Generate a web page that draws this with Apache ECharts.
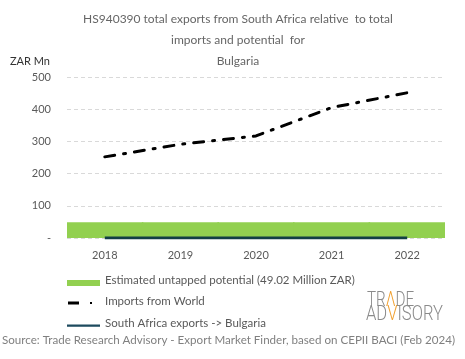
<!DOCTYPE html>
<html><head><meta charset="utf-8">
<script src="https://cdn.jsdelivr.net/npm/echarts@6/dist/echarts.min.js"></script>
<style>html,body{margin:0;padding:0;background:#fff}#c{width:465px;height:359px}</style>
</head><body><div id="c"></div>
<script>
const years = ['2018','2019','2020','2021','2022'];
const potential = [49.02, 49.02, 49.02, 49.02, 49.02];
const importsWorld = [252, 291, 317, 405, 451];
const saExports = [0, 0, 0, 0, 0];
const yTicks = [0, 100, 200, 300, 400, 500];

const FONT = 'Lato';
// tiny corner markers keep the icon's bounding box at 33x14
const BOX = ' M0,0 L0.01,0 L0,0.01 Z M33,14 L32.99,14 L33,13.99 Z';
const chart = echarts.init(document.getElementById('c'));
chart.setOption({
  animation: false,
  title: {
    text: 'HS940390 total exports from South Africa relative  to total\nimports and potential  for\nBulgaria',
    left: 233, top: 4, textAlign: 'center',
    textStyle: {fontFamily: FONT, fontSize: 12, fontWeight: 'normal', color: '#666', lineHeight: 21}
  },
  grid: {left: 67, right: 20, top: 77, bottom: 121, containLabel: false},
  xAxis: {
    type: 'category', data: years, boundaryGap: true,
    axisLine: {show: false}, axisTick: {show: false},
    axisLabel: {fontFamily: FONT, fontSize: 11, color: '#595959', margin: 12}
  },
  yAxis: {
    type: 'value', min: yTicks[0], max: yTicks[yTicks.length-1], interval: 100,
    name: 'ZAR Mn', nameLocation: 'end', nameGap: 10,
    nameTextStyle: {fontFamily: FONT, fontSize: 11, color: '#333', align: 'right', padding: [0, 17, 0, 0]},
    axisLine: {show: false}, axisTick: {show: false},
    axisLabel: {fontFamily: FONT, fontSize: 11, color: '#595959', margin: 16,
      formatter: v => v === 0 ? '-' : String(v)},
    splitLine: {lineStyle: {color: '#d9d9d9', type: [4, 3], width: 1}}
  },
  legend: {
    orient: 'vertical', left: 62, top: 268, itemGap: 7.5, itemWidth: 33, itemHeight: 14,
    textStyle: {fontFamily: FONT, fontSize: 11.5, color: '#595959'},
    data: [
      {name: 'Estimated untapped potential (49.02 Million ZAR)', icon: 'path://M0,7 L33,7 L33,13 L0,13 Z' + BOX},
      {name: 'Imports from World', icon: 'path://M1,7 L12,7 L12,10 L1,10 Z M23,7.5 L25,7.5 L25,9.5 L23,9.5 Z' + BOX},
      {name: 'South Africa exports -> Bulgaria', icon: 'path://M0,8.5 L33,8.5 L33,10.7 L0,10.7 Z' + BOX}
    ]
  },
  series: [
    {name: 'Estimated untapped potential (49.02 Million ZAR)', type: 'bar', data: potential,
      barCategoryGap: '0%', barWidth: '102%', itemStyle: {color: '#92d050', borderWidth: 0}},
    {name: 'Imports from World', type: 'line', data: importsWorld, symbol: 'none',
      lineStyle: {color: '#000', width: 3, type: [10, 9, 2, 9], cap: 'round'}, itemStyle: {color: '#000'}},
    {name: 'South Africa exports -> Bulgaria', type: 'line', data: saExports, symbol: 'none',
      lineStyle: {color: '#123f45', width: 3}, itemStyle: {color: '#1d4a5e'}}
  ],
  graphic: [
    {type: 'text', left: 2, top: 334, style: {text: 'Source: Trade Research Advisory - Export Market Finder, based on CEPII BACI (Feb 2024)',
      font: '11.6px ' + FONT, fill: '#808080'}},
    {type: 'text', x: 367, y: 291, scaleX: 0.78, style: {
      text: '{g|TR}{o|Λ}{g|DE}', verticalAlign: 'top',
      rich: {g: {fontFamily: 'Roboto', fontWeight: 300, fontSize: 19.5, fill: '#8a8a8a'},
             o: {fontFamily: 'Roboto', fontWeight: 300, fontSize: 19.5, fill: '#f0a030'}}}},
    {type: 'text', x: 366, y: 305, scaleX: 0.85, style: {
      text: '{g|AD}{o|V}{g|ISORY}', verticalAlign: 'top',
      rich: {g: {fontFamily: 'Roboto', fontWeight: 300, fontSize: 19.5, fill: '#8a8a8a'},
             o: {fontFamily: 'Roboto', fontWeight: 300, fontSize: 19.5, fill: '#f0a030'}}}}
  ]
});
</script></body></html>
